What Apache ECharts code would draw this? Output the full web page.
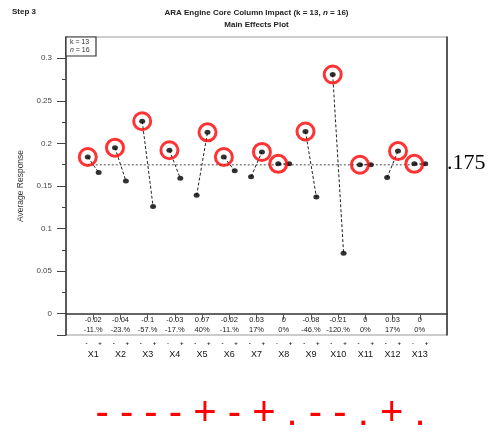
<!DOCTYPE html>
<html>
<head>
<meta charset="utf-8">
<script src="https://cdn.jsdelivr.net/npm/echarts@6/dist/echarts.min.js"></script>
<style>
  html, body { margin: 0; padding: 0; background: #fff; }
  #chart { width: 491px; height: 434px; }
</style>
</head>
<body>
<div id="chart"></div>
<script>
// Main effects: mean response at the "-" and "+" level of each factor
const factors = ['X1', 'X2', 'X3', 'X4', 'X5', 'X6', 'X7', 'X8', 'X9', 'X10', 'X11', 'X12', 'X13'];
const lowMeans  = [0.184, 0.195, 0.226, 0.192, 0.139, 0.184, 0.161, 0.176, 0.214, 0.281, 0.175, 0.160, 0.176];
const highMeans = [0.166, 0.156, 0.126, 0.159, 0.213, 0.168, 0.190, 0.176, 0.137, 0.071, 0.175, 0.191, 0.176];
const effectLabels = ['-0.02', '-0.04', '-0.1', '-0.03', '0.07', '-0.02', '0.03', '0', '-0.08', '-0.21', '0', '0.03', '0'];
const pctLabels = ['-11.%', '-23.%', '-57.%', '-17.%', '40%', '-11.%', '17%', '0%', '-46.%', '-120.%', '0%', '17%', '0%'];
// preferred setting per factor ('.' = no preference)
const choices = ['-', '-', '-', '-', '+', '-', '+', '.', '-', '-', '.', '+', '.'];
const grandMean = 0.175;
const yMajorTicks = [0, 0.05, 0.1, 0.15, 0.2, 0.25, 0.3];
const yMinorTicks = [-0.025, 0.025, 0.075, 0.125, 0.175, 0.225, 0.275];

const FONT = "'Liberation Sans', Arial, sans-serif";
const OFF = 0.2;        // spread of the two level points around the factor position
const MARK_OFF = 0.25;  // spread of the small -/+ marks under the axis
const Y_MIN = -0.025, Y_MAX = 0.325;

const positions = factors.map((_, i) => i + 1);

const segmentSeries = factors.map((f, i) => ({
  type: 'line',
  name: f,
  data: [[positions[i] - OFF, lowMeans[i]], [positions[i] + OFF, highMeans[i]]],
  symbol: 'none',
  lineStyle: { color: '#222', width: 1, type: [3, 2] },
  silent: true,
  z: 2
}));

const pointData = [];
factors.forEach((f, i) => {
  pointData.push([positions[i] - OFF, lowMeans[i]]);
  pointData.push([positions[i] + OFF, highMeans[i]]);
});

const circleData = factors.map((f, i) =>
  choices[i] === '+' ? [positions[i] + OFF, highMeans[i]] : [positions[i] - OFF, lowMeans[i]]
);

const fmtY = v => String(+v.toFixed(3));

const baseGraphics = [
  { type: 'text', left: 12, top: 8,
    style: { text: 'Step 3', font: 'bold 8px ' + FONT, fill: '#222' } },
  { type: 'text', x: 256.5, y: 13,
    style: {
      text: '{b|ARA Engine Core Column Impact (k = 13, }{i|n}{b| = 16)}',
      align: 'center', verticalAlign: 'middle',
      rich: {
        b: { font: 'bold 8px ' + FONT, fill: '#222' },
        i: { font: 'italic bold 8px ' + FONT, fill: '#222' }
      }
    } },
  { type: 'text', x: 256.5, y: 25,
    style: { text: 'Main Effects Plot', font: 'bold 8px ' + FONT, fill: '#222',
             align: 'center', verticalAlign: 'middle' } },
  { type: 'rect', shape: { x: 66, y: 37, width: 30, height: 19 },
    style: { fill: '#fff', stroke: '#333', lineWidth: 1.2 }, z: 10 },
  { type: 'text', x: 70, y: 42, z: 11,
    style: { text: 'k = 13', font: '7px ' + FONT, fill: '#333', verticalAlign: 'middle' } },
  { type: 'text', x: 70, y: 50.5, z: 11,
    style: { text: '{i|n}{t| = 16}', verticalAlign: 'middle',
             rich: { i: { font: 'italic 7px ' + FONT, fill: '#333' }, t: { font: '7px ' + FONT, fill: '#333' } } } },
  { type: 'text', x: 447, y: 163,
    style: { text: String(grandMean).replace(/^0/, ''), font: "22px 'Liberation Serif', 'Times New Roman', serif",
             fill: '#000', verticalAlign: 'middle' } },
  { type: 'text', x: 260.5, y: 414,
    style: { text: choices.join(' '), font: '40px ' + FONT, fill: '#f00',
             align: 'center', verticalAlign: 'middle' } }
];

const option = {
  animation: false,
  backgroundColor: '#fff',
  grid: {
    left: 66, right: 44, top: 37, bottom: 99,
    show: true, borderColor: '#9a9a9a', borderWidth: 1
  },
  xAxis: [
    {
      type: 'value', min: 0, max: 14, position: 'bottom',
      splitLine: { show: false },
      axisLine: { show: true, lineStyle: { color: '#333', width: 1.5 } },
      axisTick: { show: true, length: 6, customValues: positions, lineStyle: { color: '#555', width: 1 } },
      axisLabel: {
        customValues: positions, margin: 15,
        formatter: v => factors[Math.round(v) - 1] || '',
        fontFamily: FONT, fontSize: 9, color: '#111'
      }
    },
    {
      type: 'value', min: 0, max: 14, position: 'bottom',
      splitLine: { show: false },
      axisLine: { show: false }, axisTick: { show: false },
      axisLabel: {
        customValues: positions.flatMap(p => [p - MARK_OFF, p + MARK_OFF]),
        margin: 5,
        formatter: v => (v < Math.round(v) ? '-' : '+'),
        fontFamily: FONT, fontSize: 6, fontWeight: 'bold', color: '#222'
      }
    }
  ],
  yAxis: [
    {
      type: 'value', min: Y_MIN, max: Y_MAX, position: 'left',
      name: 'Average Response', nameLocation: 'middle', nameGap: 41,
      nameTextStyle: { fontFamily: FONT, fontSize: 8.5, color: '#333' },
      splitLine: { show: false },
      axisLine: { show: true, lineStyle: { color: '#333', width: 1.5 } },
      axisTick: { show: true, length: 9, customValues: yMajorTicks.concat([Y_MIN]), lineStyle: { color: '#444' } },
      axisLabel: {
        customValues: yMajorTicks, margin: 14, formatter: fmtY,
        fontFamily: FONT, fontSize: 8, color: '#444'
      }
    },
    {
      type: 'value', min: Y_MIN, max: Y_MAX, position: 'left',
      splitLine: { show: false },
      axisLine: { show: false },
      axisTick: { show: true, length: 4, customValues: yMinorTicks, lineStyle: { color: '#444' } },
      axisLabel: { show: false }
    },
    {
      type: 'value', min: Y_MIN, max: Y_MAX, position: 'right',
      splitLine: { show: false },
      axisLine: { show: true, lineStyle: { color: '#333', width: 1.5 } },
      axisTick: { show: false }, axisLabel: { show: false }
    }
  ],
  series: [
    {
      type: 'line', name: 'mean',
      data: [[positions[0] - OFF, grandMean], [positions[positions.length - 1] + OFF, grandMean]],
      symbol: 'none', silent: true, z: 1,
      lineStyle: { color: '#888', width: 1.5, type: [2, 2] }
    },
    ...segmentSeries,
    {
      type: 'scatter', name: 'levels', data: pointData,
      symbol: 'circle', symbolSize: [6, 5], silent: true, z: 3,
      itemStyle: { color: '#000' }
    },
    {
      type: 'scatter', name: 'chosen', data: circleData,
      symbol: 'circle', symbolSize: 17, silent: true, z: 4,
      itemStyle: { color: 'rgba(0,0,0,0)', borderColor: '#f00', borderWidth: 3 }
    }
  ],
  graphic: baseGraphics
};

const chart = echarts.init(document.getElementById('chart'), null, { renderer: 'canvas' });
chart.setOption(option);

// effect size and relative change, printed just above the x axis for every factor
const effectTexts = [];
positions.forEach((p, i) => {
  const [px, py] = chart.convertToPixel({ xAxisIndex: 0, yAxisIndex: 0 }, [p, Y_MIN]);
  effectTexts.push({ type: 'text', x: px, y: py - 15, z: 5,
    style: { text: effectLabels[i], font: '7.5px ' + FONT, fill: '#222', align: 'center', verticalAlign: 'middle' } });
  effectTexts.push({ type: 'text', x: px, y: py - 5, z: 5,
    style: { text: pctLabels[i], font: '7.5px ' + FONT, fill: '#222', align: 'center', verticalAlign: 'middle' } });
});
chart.setOption({ graphic: baseGraphics.concat(effectTexts) });
</script>
</body>
</html>
